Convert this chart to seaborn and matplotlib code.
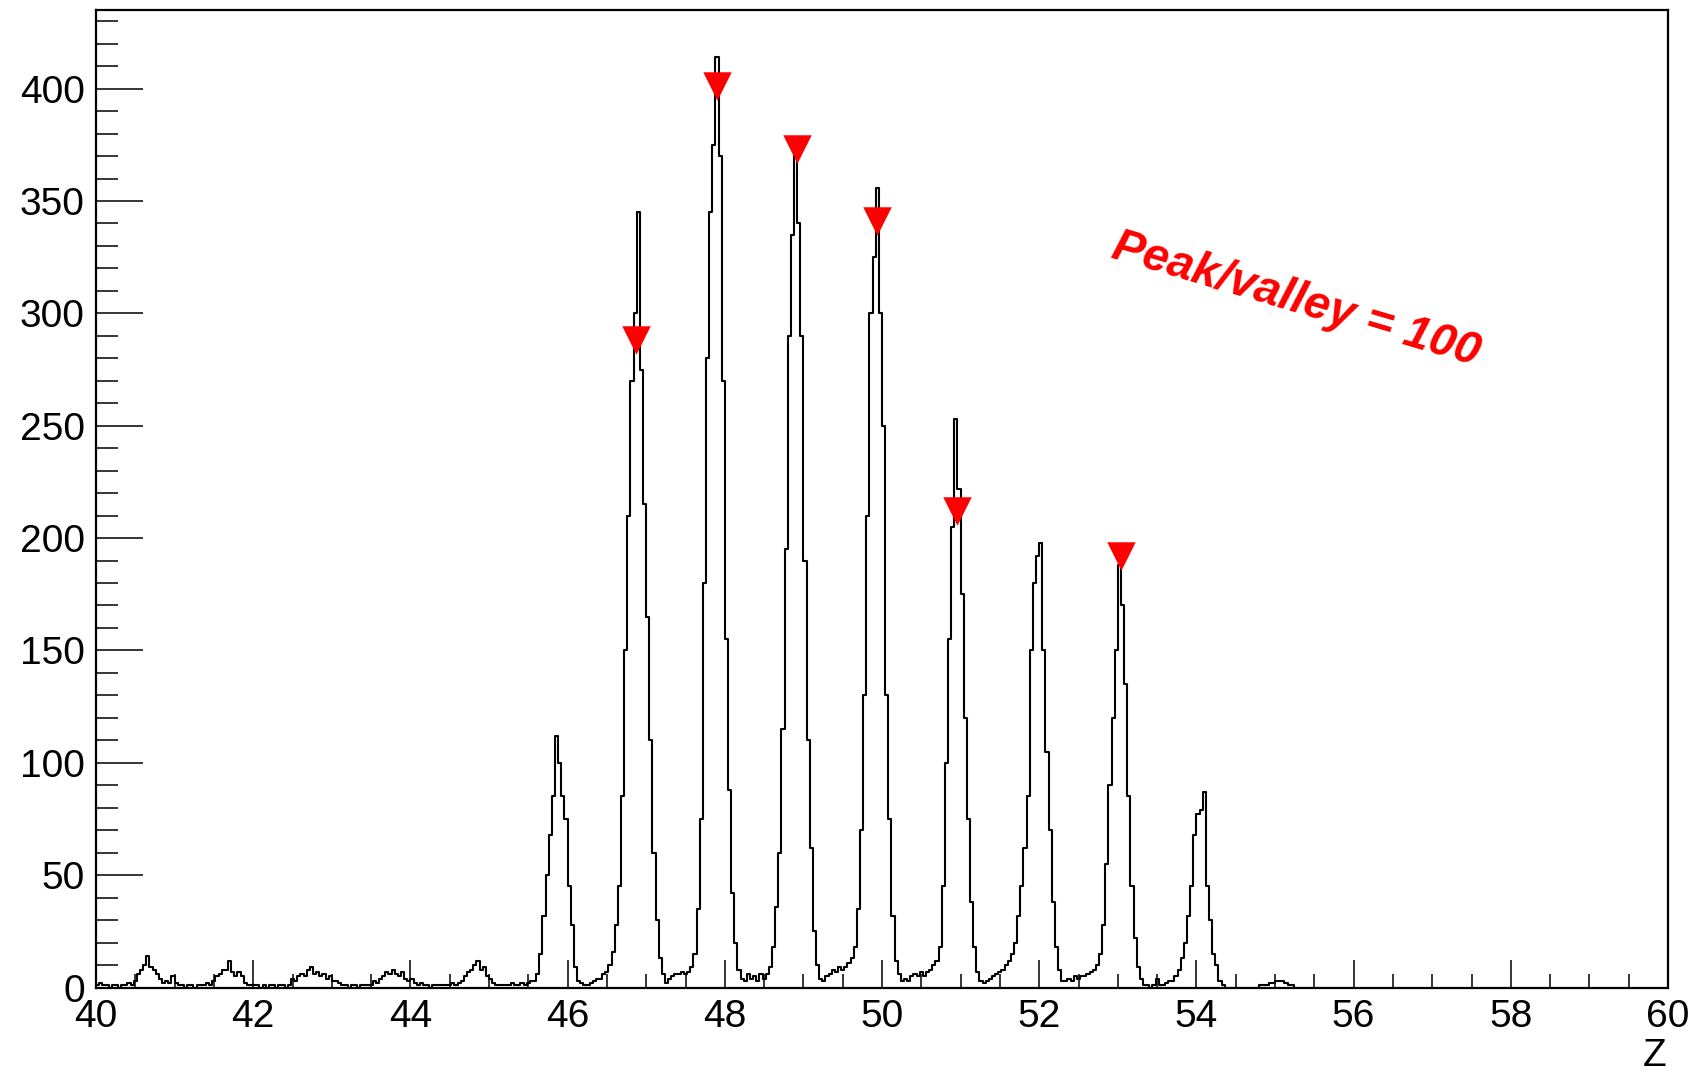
import numpy as np
import pandas as pd
import matplotlib
matplotlib.use("Agg")
import matplotlib.pyplot as plt
import seaborn as sns
from matplotlib.ticker import MultipleLocator

# ---------------- data (counts per 0.04-wide Z bin, one array per unit of Z) ----------------
z_start = 40.0
bin_width = 0.04

c40 = [1, 2, 1, 1, 0, 1, 1, 0, 1, 1, 2, 1, 3, 6, 8, 10, 14, 9, 8, 6, 4, 2, 3, 2, 5]
c41 = [2, 1, 1, 0, 1, 1, 0, 1, 1, 1, 2, 1, 3, 5, 6, 8, 8, 12, 7, 5, 7, 5, 2, 1, 1]
c42 = [1, 1, 0, 1, 0, 1, 1, 0, 1, 1, 0, 1, 4, 3, 5, 6, 5, 8, 9, 6, 7, 5, 6, 4, 5]
c43 = [3, 3, 2, 1, 1, 0, 1, 1, 0, 1, 1, 1, 1, 3, 2, 4, 5, 7, 6, 8, 6, 5, 7, 4, 3]
c44 = [4, 2, 1, 2, 1, 1, 0, 1, 1, 1, 1, 1, 1, 2, 1, 2, 3, 5, 7, 8, 10, 12, 8, 9, 5]
c45 = [4, 2, 1, 1, 1, 1, 1, 2, 1, 1, 2, 1, 2, 3, 3, 6, 15, 32, 50, 68, 85, 112, 100, 85, 75]
c46 = [45, 28, 9, 3, 2, 1, 1, 2, 3, 4, 4, 6, 7, 10, 16, 28, 45, 85, 150, 210, 270, 300, 345, 275, 215]
c47 = [165, 110, 60, 30, 13, 6, 2, 4, 5, 6, 6, 7, 6, 7, 9, 15, 35, 75, 180, 280, 345, 375, 414, 370, 270]
c48 = [155, 88, 42, 20, 8, 4, 3, 6, 4, 5, 3, 6, 4, 6, 9, 18, 36, 60, 115, 195, 290, 335, 372, 340, 290]
c49 = [190, 110, 62, 25, 10, 4, 3, 5, 6, 8, 7, 9, 8, 9, 11, 13, 18, 35, 70, 130, 210, 300, 325, 356, 300]
c50 = [250, 130, 75, 32, 12, 6, 3, 4, 3, 5, 6, 5, 7, 5, 7, 8, 10, 12, 18, 45, 100, 155, 205, 253, 222]
c51 = [175, 120, 75, 38, 18, 7, 3, 2, 3, 4, 5, 6, 7, 8, 10, 12, 15, 20, 32, 45, 62, 85, 150, 180, 192]
c52 = [198, 150, 105, 70, 38, 18, 8, 3, 3, 4, 3, 5, 4, 5, 5, 6, 7, 8, 10, 15, 28, 55, 90, 120, 150]
c53 = [188, 170, 135, 85, 45, 22, 9, 4, 1, 1, 0, 1, 4, 1, 1, 2, 3, 3, 5, 8, 13, 20, 32, 45, 68]
c54 = [77, 79, 87, 45, 30, 15, 10, 3, 1, 0, 0, 0, 0, 0, 0, 0, 0, 0, 0, 0, 1, 1, 1, 2, 2]
c55 = [3, 3, 3, 2, 1, 1, 0, 0, 0, 0, 0, 0, 0, 0, 0, 0, 0, 0, 0, 0, 0, 0, 0, 0, 0]

# found peaks (red markers)
peak_z = [46.87, 47.90, 48.915, 49.94, 50.95, 53.04]
peak_val = [288, 401, 373, 341, 212, 192]

x_ticks = [40, 42, 44, 46, 48, 50, 52, 54, 56, 58, 60]
y_ticks = [0, 50, 100, 150, 200, 250, 300, 350, 400]
annotation = "Peak/valley = 100"
x_title = "Z"

# ---------------- build ----------------
counts = np.concatenate([c40, c41, c42, c43, c44, c45, c46, c47, c48, c49,
                         c50, c51, c52, c53, c54, c55]).astype(float)
n_bins = len(counts)
centers = z_start + bin_width * (np.arange(n_bins) + 0.5)
z_end = z_start + bin_width * n_bins
df = pd.DataFrame({"Z": centers, "counts": counts})

sns.set_style("white")
plt.rcParams["font.family"] = ["Liberation Sans", "DejaVu Sans"]
plt.rcParams["text.color"] = "black"

W, H = 1707, 1074
fig = plt.figure(figsize=(W / 100, H / 100), dpi=100)
left, right, bottom, top = 96, 1668, 987.5, 10
ax = fig.add_axes([left / W, 1 - bottom / H, (right - left) / W, (bottom - top) / H])

sns.histplot(data=df, x="Z", weights="counts", binwidth=bin_width,
             binrange=(z_start, z_end), element="step",
             fill=False, color="black", linewidth=1.5, ax=ax)
sns.scatterplot(x=peak_z, y=peak_val, marker="v", s=420, color="red",
                edgecolor="red", linewidth=0, ax=ax, zorder=5)

ax.set_xlim(40, 60)
ax.set_ylim(0, 435)
ax.set_xlabel("")
ax.set_ylabel("")

ax.set_xticks(x_ticks)
ax.set_yticks(y_ticks)
ax.xaxis.set_minor_locator(MultipleLocator(0.5))
ax.yaxis.set_minor_locator(MultipleLocator(10))

ax.tick_params(axis="x", which="major", direction="in", length=20, width=1.1,
               labelsize=28, pad=8, bottom=True, top=False, color="black",
               labelcolor="black")
ax.tick_params(axis="x", which="minor", direction="in", length=10, width=1.1,
               bottom=True, top=False, color="black")
ax.tick_params(axis="y", which="major", direction="in", length=34, width=1.1,
               labelsize=28, pad=8, left=True, right=False, color="black",
               labelcolor="black")
ax.tick_params(axis="y", which="minor", direction="in", length=16, width=1.1,
               left=True, right=False, color="black")

for s in ax.spines.values():
    s.set_visible(True)
    s.set_color("black")
    s.set_linewidth(1.6)

fig.text(1667 / W, 1 - 1066 / H, x_title, ha="right", va="baseline",
         fontsize=28, color="black")

fig.text(1296 / W, 1 - 300 / H, annotation, color="red", fontsize=33.5,
         fontweight="bold", fontstyle="italic", rotation=-16.5,
         ha="center", va="center", rotation_mode="anchor")

fig.savefig("out.png", dpi=100, facecolor="white")
